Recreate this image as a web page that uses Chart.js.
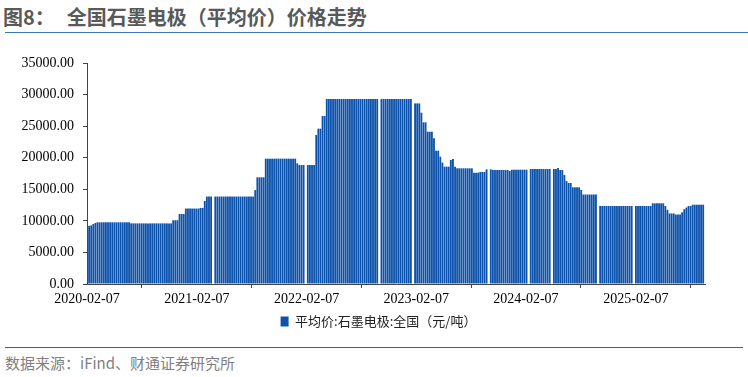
<!DOCTYPE html>
<html>
<head>
<meta charset="utf-8">
<script src="https://cdn.jsdelivr.net/npm/chart.js@4.4.1/dist/chart.umd.min.js"></script>
<style>
  body { margin: 0; width: 748px; height: 377px; background: #fff; position: relative; overflow: hidden; font-family: "Noto Sans CJK SC", sans-serif; }
  #title { position: absolute; left: 3px; top: 2px; font-size: 20px; font-weight: bold; color: #595959; white-space: nowrap; }
  #title .main { margin-left: 12px; }
  #topline { position: absolute; left: 5px; right: 0; top: 32px; height: 1px; background: #3c78c3; }
  #wrap { position: absolute; left: 0; top: 40px; width: 748px; height: 300px; }
  #botline { position: absolute; left: 5px; right: 5px; top: 347px; height: 1px; background: #2f64ab; }
  #source { position: absolute; left: 5px; top: 352px; font-size: 15px; color: #7f7f7f; white-space: nowrap; }
</style>
</head>
<body>
<div id="title">图8：<span class="main">全国石墨电极（平均价）价格走势</span></div>
<div id="topline"></div>
<div id="wrap"><canvas id="graphite"></canvas></div>
<div id="botline"></div>
<div id="source">数据来源：iFind、财通证券研究所</div>

<script>
// weekly series, first week 2020-02-07, null = no quote that week
const startDate = '2020-02-07';
const seriesName = '平均价:石墨电极:全国（元/吨）';
const priceValues = [
  9190, 9190, 9290, 9500, 9660, 9770, 9770, 9770, 9770, 9770,
  9770, 9770, 9770, 9770, 9770, 9770, 9770, 9770, 9770, 9770,
  9770, 9600, 9600, 9600, 9600, 9600, 9600, 9600, 9600, 9600,
  9600, 9600, 9600, 9600, 9600, 9600, 9600, 9600, 9600, 9600,
  9600, 10100, 10100, 10100, 11090, 11090, 11090, 11950, 11950, 11950,
  11950, 11950, 11950, 11950, 12050, 12050, 13150, 13850, 13850, 13850,
  null, 13850, 13850, 13850, 13850, 13850, 13850, 13850, 13850, 13850,
  13850, 13850, 13850, 13850, 13850, 13850, 13850, 13850, 13850, 13850,
  14870, 16900, 16900, 16900, 16900, 19850, 19850, 19850, 19850, 19850,
  19850, 19850, 19850, 19850, 19850, 19850, 19850, 19850, 19850, 19850,
  19110, 18850, 18850, 18850, null, 18850, 18850, 18850, 18850, 23600,
  24600, 24600, 26600, 26600, 29300, 29300, 29300, 29300, 29300, 29300,
  29300, 29300, 29300, 29300, 29300, 29300, 29300, 29300, 29300, 29300,
  29300, 29300, 29300, 29300, 29300, 29300, 29300, 29300, 29300, null,
  29300, 29300, 29300, 29300, 29300, 29300, 29300, 29300, 29300, 29300,
  29300, 29300, 29300, 29300, 29300, null, 28600, 28600, 28600, 27130,
  25600, 25600, 24120, 24120, 24120, 23070, 21110, 21110, 20160, 19220,
  18580, 18580, 18580, 19640, 19800, 18580, 18320, 18320, 18320, 18320,
  18320, 18320, 18320, 18320, 17630, 17630, 17630, 17740, 17740, 17740,
  18160, null, 18160, 18050, 18050, 18050, 18050, 18050, 18050, 18050,
  18050, 17900, 18100, 18100, 18100, 18100, 18100, 18100, 18100, 18100,
  null, 18210, 18210, 18210, 18210, 18210, 18210, 18210, 18210, 18210,
  18210, null, 18210, 18210, 18370, 18050, 18050, 17260, 16300, 16000,
  16000, 15310, 15310, 15310, 15310, 14890, 14170, 14170, 14170, 14170,
  14170, 14170, 14170, null, 12350, 12350, 12350, 12350, 12350, 12350,
  12350, 12350, 12350, 12350, 12350, 12350, 12350, 12350, 12350, 12350,
  null, 12350, 12350, 12350, 12350, 12350, 12350, 12350, 12350, 12780,
  12780, 12780, 12780, 12780, 12780, 12350, 11750, 11170, 11170, 11170,
  11000, 11000, 11000, 11350, 11850, 12100, 12350, 12350, 12560, 12560,
  12560, 12560, 12560, 12560
];
const xTickLabels = ['2020-02-07', '2021-02-07', '2022-02-07', '2023-02-07', '2024-02-07', '2025-02-07'];
const yTicks = [0, 5000, 10000, 15000, 20000, 25000, 30000, 35000];

const DAY = 86400000;
const t0 = Date.parse(startDate + 'T00:00:00Z');
function dayOf(s) { return Math.round((Date.parse(s + 'T00:00:00Z') - t0) / DAY); }

const weekDays = priceValues.map(function (v, i) { return i * 7; });
const tickDays = xTickLabels.map(dayOf);
const points = priceValues.map(function (v, i) { return { x: weekDays[i], y: v }; });

const serif = 'Liberation Serif';

// legend sits a bit right of the plot centre in the original
const legendShift = {
  id: 'legendShift',
  afterLayout: function (chart) {
    chart.legend.left += 26;
    chart.legend.right += 26;
  }
};

const ctx = document.getElementById('graphite').getContext('2d');
const graphite = new Chart(ctx, {
  type: 'bar',
  data: {
    datasets: [{
      label: seriesName,
      data: points,
      backgroundColor: '#0d52ab',
      borderWidth: 0,
      barPercentage: 0.88,
      categoryPercentage: 1
    }]
  },
  options: {
    responsive: true,
    maintainAspectRatio: false,
    animation: false,
    layout: { padding: { left: 0, right: 43, top: 23, bottom: 2 } },
    scales: {
      x: {
        type: 'linear',
        offset: false,
        min: 0,
        max: 2057,
        afterBuildTicks: function (scale) {
          scale.ticks = tickDays.map(function (d) { return { value: d }; });
        },
        afterFit: function (scale) { scale.height = 21; },
        ticks: {
          autoSkip: false,
          maxRotation: 0,
          padding: 3,
          color: '#000',
          font: { family: serif, size: 14 },
          callback: function (value, index) { return xTickLabels[index]; }
        },
        grid: { drawOnChartArea: false, drawTicks: true, tickLength: 4, color: '#444' },
        border: { display: true, color: '#444', width: 1 }
      },
      y: {
        min: 0,
        max: 35000,
        afterBuildTicks: function (scale) {
          scale.ticks = yTicks.map(function (v) { return { value: v }; });
        },
        afterFit: function (scale) { scale.width = 87; },
        ticks: {
          padding: 9,
          color: '#000',
          font: { family: serif, size: 14 },
          callback: function (value, index) { return yTicks[index].toFixed(2); }
        },
        grid: { drawOnChartArea: false, drawTicks: true, tickLength: 4, color: '#444' },
        border: { display: true, color: '#444', width: 1 }
      }
    },
    plugins: {
      legend: {
        position: 'bottom',
        labels: {
          boxWidth: 8,
          boxHeight: 10,
          padding: 10,
          color: '#222',
          font: { family: '"Noto Sans CJK SC"', size: 13 }
        }
      },
      tooltip: { enabled: false }
    }
  },
  plugins: [legendShift]
});
</script>
</body>
</html>
